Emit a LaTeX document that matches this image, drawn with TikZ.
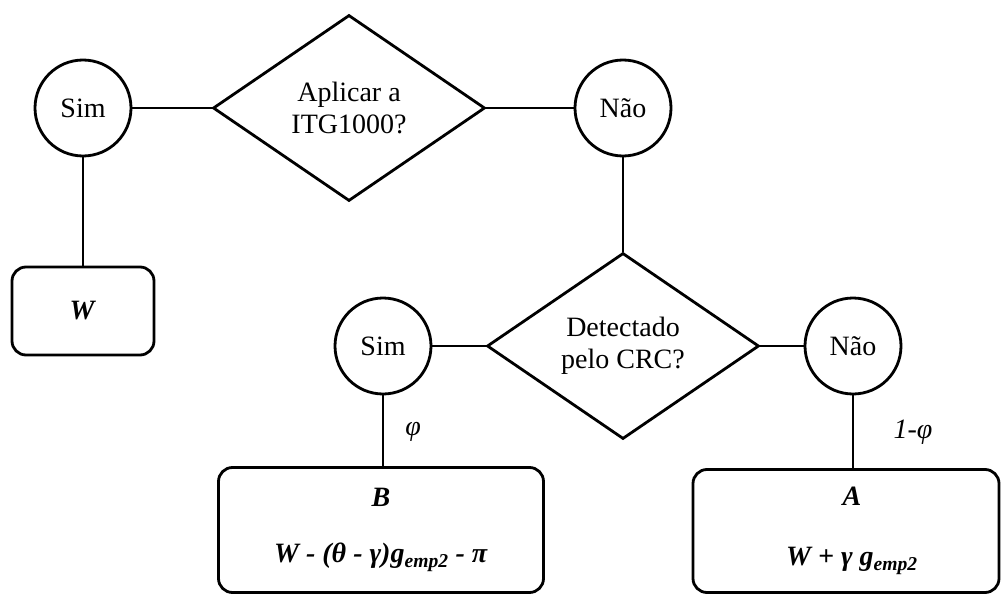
\documentclass[tikz,border=0pt]{standalone}
\usepackage{fontspec}
\setmainfont{Liberation Serif}
\usetikzlibrary{shapes.geometric}

\begin{document}
\begin{tikzpicture}[x=1pt,y=-1pt,line width=2.8pt,
    font=\fontsize{28}{32}\selectfont,
    escolha/.style={circle,draw,minimum size=96pt,inner sep=0pt},
    pergunta/.style={diamond,draw,aspect=1.46,minimum width=272pt,minimum height=186pt,inner sep=0pt,align=center},
    custo/.style={draw,rounded corners=14pt,align=center}]
        \useasboundingbox (0,0) rectangle (1002,594);

        % primeira pergunta
        \node[pergunta] (q1) at (349,108) {Aplicar a\\ITG1000?};
        \node[escolha] (sim1) at (83,108) {Sim};
        \node[escolha] (nao1) at (623,108) {Não};
        \node[custo,minimum width=142pt,minimum height=88pt] (w) at (83,311) {\textbf{\textit{W}}};

        % segunda pergunta
        \node[pergunta] (q2) at (623,346) {Detectado\\pelo CRC?};
        \node[escolha] (sim2) at (383,346) {Sim};
        \node[escolha] (nao2) at (853,346) {Não};

        % resultados
        \node[custo,minimum width=325pt,minimum height=125pt] (b) at (381,530)
            {\textbf{\textit{B}}\\[24pt]\textbf{\textit{W - (θ - γ)g\textsubscript{emp2} - π}}};
        \node[custo,minimum width=306pt,minimum height=123pt] (a) at (846,531)
            {\hspace*{12pt}\textbf{\textit{A}}\\[28pt]\hspace*{12pt}\textbf{\textit{W + γ g\textsubscript{emp2}}}};
        \node (phi) at (413,432) {\textit{φ}};
        \node (umphi) at (913,432) {\textit{1-φ}};

        % ligacoes
        \draw (sim1) -- (q1);
        \draw (q1) -- (nao1);
        \draw (sim1) -- (w);
        \draw (nao1) -- (q2);
        \draw (q2) -- (sim2);
        \draw (q2) -- (nao2);
        \draw (sim2) -- (sim2 |- b.north);
        \draw (nao2) -- (nao2 |- a.north);
    \end{tikzpicture}
\end{document}
